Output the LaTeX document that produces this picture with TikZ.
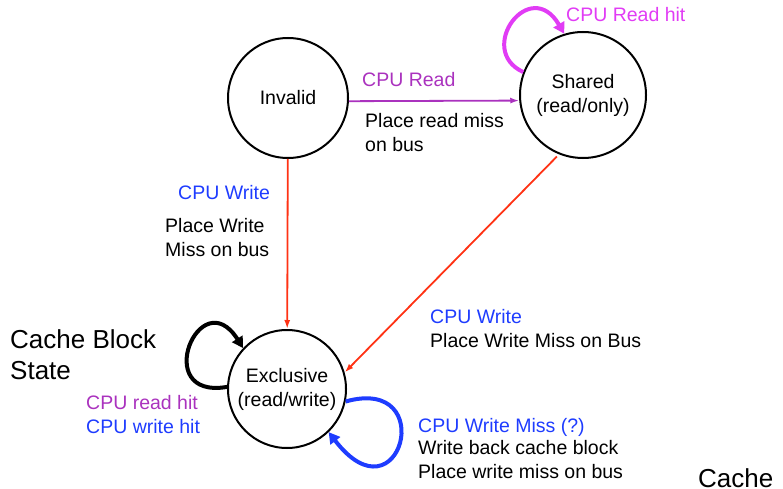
\documentclass[tikz,border=0pt]{standalone}
\usepackage{fontspec}
\setmainfont{Liberation Sans}
\usepackage{tikz}
\usepackage{xcolor}
\usetikzlibrary{arrows.meta, positioning}
\definecolor{readpurple}{RGB}{170, 50, 190}
\definecolor{hitmagenta}{RGB}{225, 60, 245}
\definecolor{writeblue}{RGB}{30, 60, 255}
\definecolor{busred}{RGB}{255, 50, 20}

\begin{document}
\begin{tikzpicture}[x=1pt, y=-1pt,
    state/.style={draw, circle, line width=2pt, inner sep=0pt, align=center, font=\fontsize{19.5}{24}\selectfont},
    lbl/.style={anchor=base west, inner sep=0pt, align=left, font=\fontsize{19.5}{23.5}\selectfont},
    big/.style={anchor=base west, inner sep=0pt, align=left, font=\fontsize{26}{31}\selectfont},
    edge/.style={line width=1.8pt, -{Latex[length=9pt, width=6pt]}},
    loop/.style={line width=4pt, -{Triangle[length=11pt, width=12pt]}}]
    \useasboundingbox (0,0) rectangle (783,489);
    % states
    \node[state, minimum size=120pt] (inv) at (288,98) {Invalid};
    \node[state, minimum size=126pt] (sh) at (583,95) {Shared\\(read/only)};
    \node[state, minimum size=118pt] (ex) at (287,389) {Exclusive\\(read/write)};
    % transitions
    \draw[edge, readpurple] (inv.-3) -- (sh.-175);
    \draw[edge, busred] (inv) -- (ex);
    \draw[edge, busred, shorten <=3pt] (sh.-112) -- (ex.16);
    \draw[loop, hitmagenta] (sh.159) .. controls (475,50) and (530,-25) .. (sh.107);
    \draw[loop, black] (ex.178) .. controls (150,400) and (200,280) .. (ex.137);
    \draw[loop, writeblue] (ex.-12) .. controls (440,375) and (400,525) .. (ex.-46);
    % labels (base = last line)
    \node[lbl, readpurple] (rdlbl) at (362,87) {CPU Read};
    \node[lbl] (rdact) at (365,151) {Place read miss\\on bus};
    \node[lbl, hitmagenta] (shhit) at (566,22) {CPU Read hit};
    \node[lbl, writeblue] (wrlbl) at (178,199) {CPU Write};
    \node[lbl] (wract) at (165,256) {Place Write\\Miss on bus};
    \node[lbl, writeblue] (shwr) at (430,323) {CPU Write};
    \node[lbl] (shwract) at (430,347) {Place Write Miss on Bus};
    \node[big] (title) at (10,379) {Cache Block\\State};
    \node[lbl, readpurple] (exrd) at (86,409) {CPU read hit};
    \node[lbl, writeblue] (exwr) at (86,433) {CPU write hit};
    \node[lbl, writeblue] (exmiss) at (418,432) {CPU Write Miss (?)};
    \node[lbl] (exmissact) at (418,478) {Write back cache block\\Place write miss on bus};
    \node[big] (cache) at (698,487) {Cache};
\end{tikzpicture}
\end{document}
